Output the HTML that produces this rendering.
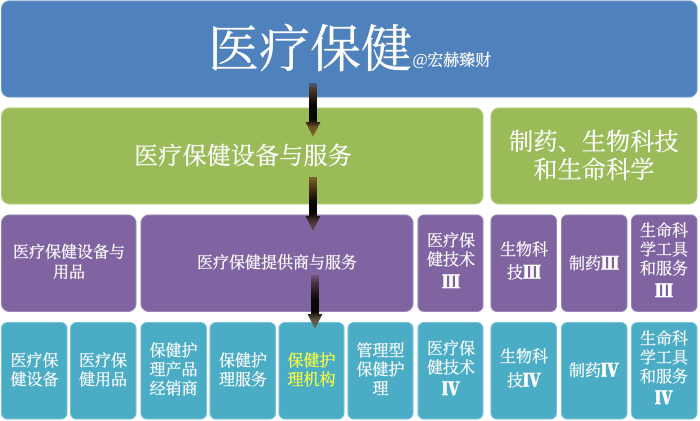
<!DOCTYPE html>
<html lang="zh">
<head>
<meta charset="utf-8">
<style>
html,body{margin:0;padding:0;background:#fff;width:700px;height:421px;overflow:hidden}
svg{display:block;filter:blur(.35px)}
text{font-family:"Noto Serif CJK SC","Liberation Serif",serif;fill:#fff;stroke:#fff;stroke-width:.25;text-anchor:middle;dominant-baseline:central}
.r{font-family:"Noto Serif CJK SC","Liberation Serif",serif;font-weight:900;stroke-width:.6}
</style>
</head>
<body>
<svg width="700" height="421" viewBox="0 0 700 421" xmlns="http://www.w3.org/2000/svg">
<defs>
<linearGradient id="a1" x1="0" y1="0" x2="0" y2="1">
<stop offset="0" stop-color="#4a5f80"/><stop offset=".12" stop-color="#4a3a28"/><stop offset=".4" stop-color="#0a0805"/><stop offset=".68" stop-color="#0a0805"/><stop offset=".82" stop-color="#6b5222"/><stop offset="1" stop-color="#8a6e2c"/>
</linearGradient>
<linearGradient id="a2" x1="0" y1="0" x2="0" y2="1">
<stop offset="0" stop-color="#7a6a2c"/><stop offset=".15" stop-color="#5a4218"/><stop offset=".45" stop-color="#0a0805"/><stop offset=".68" stop-color="#0a0805"/><stop offset=".82" stop-color="#4a3038"/><stop offset="1" stop-color="#6d4a58"/>
</linearGradient>
<linearGradient id="a3" x1="0" y1="0" x2="0" y2="1">
<stop offset="0" stop-color="#76557c"/><stop offset=".15" stop-color="#4a3040"/><stop offset=".45" stop-color="#0a0805"/><stop offset=".68" stop-color="#0a0805"/><stop offset=".82" stop-color="#5a5040"/><stop offset="1" stop-color="#6c6a58"/>
</linearGradient>
</defs>

<rect x="1.5" y="1" width="695.5" height="96" rx="8" fill="#4f81bd" stroke="#6c96c9"/>

<g fill="#9bbb59" stroke="#b4cd7e">
<rect x="1.5" y="108" width="481.5" height="96" rx="8"/>
<rect x="491" y="108" width="206" height="96" rx="8"/>
</g>

<g fill="#8064a2" stroke="#9a84b6">
<rect x="1.5" y="215" width="134.5" height="96.5" rx="8"/>
<rect x="141" y="215" width="272" height="96.5" rx="8"/>
<rect x="418" y="215" width="65" height="96.5" rx="6"/>
<rect x="491" y="215" width="65.5" height="96.5" rx="6"/>
<rect x="561.5" y="215" width="65.5" height="96.5" rx="6"/>
<rect x="631.5" y="215" width="65.5" height="96.5" rx="6"/>
</g>

<g fill="#4bacc6" stroke="#74c1d5">
<rect x="1.5" y="322.5" width="65.5" height="96.5" rx="6"/>
<rect x="70.5" y="322.5" width="65.5" height="96.5" rx="6"/>
<rect x="141" y="322.5" width="65.5" height="96.5" rx="6"/>
<rect x="210" y="322.5" width="65.5" height="96.5" rx="6"/>
<rect x="279" y="322.5" width="65" height="96.5" rx="6"/>
<rect x="348" y="322.5" width="65" height="96.5" rx="6"/>
<rect x="418" y="322.5" width="65" height="96.5" rx="6"/>
<rect x="491" y="322.5" width="65.5" height="96.5" rx="6"/>
<rect x="561.5" y="322.5" width="65.5" height="96.5" rx="6"/>
<rect x="631.5" y="322.5" width="65.5" height="96.5" rx="6"/>
</g>

<text x="310" y="45" font-size="51">医疗保健</text>
<text x="452" y="59" font-size="16">@宏赫臻财</text>

<g font-size="24" style="letter-spacing:.2px">
<text x="243" y="153.5">医疗保健设备与服务</text>
<text x="594" y="139.5">制药、生物科技</text>
<text x="594" y="167.5">和生命科学</text>
</g>

<g font-size="16" transform="translate(0,-2)">
<text x="69" y="253">医疗保健设备与</text>
<text x="69" y="273">用品</text>
<text x="277" y="263.5">医疗保健提供商与服务</text>
<text x="451" y="241.5">医疗保</text>
<text x="451" y="260.5">健技术</text>
<text x="451" y="283" font-size="18" class="r">Ⅲ</text>
<text x="524" y="250.5">生物科</text>
<text x="524" y="273.5">技<tspan class="r" font-size="18">Ⅲ</tspan></text>
<text x="594" y="264.5">制药<tspan class="r" font-size="18">Ⅲ</tspan></text>
<text x="664" y="231.5">生命科</text>
<text x="664" y="250.5">学工具</text>
<text x="664" y="269.5">和服务</text>
<text x="664" y="292" font-size="18" class="r">Ⅲ</text>

<text x="34.5" y="361.5">医疗保</text>
<text x="34.5" y="380.5">健设备</text>
<text x="103" y="361.5">医疗保</text>
<text x="103" y="380.5">健用品</text>
<text x="173.5" y="351.5">保健护</text>
<text x="173.5" y="370.5">理产品</text>
<text x="173.5" y="389.5">经销商</text>
<text x="243" y="361.5">保健护</text>
<text x="243" y="380.5">理服务</text>
<text x="311.5" y="361.5" style="fill:#ffff3c;stroke:#ffff3c">保健护</text>
<text x="311.5" y="380.5" style="fill:#ffff3c;stroke:#ffff3c">理机构</text>
<text x="380.5" y="351.5">管理型</text>
<text x="380.5" y="370.5">保健护</text>
<text x="380.5" y="389.5">理</text>
<text x="451" y="349.5">医疗保</text>
<text x="451" y="368.5">健技术</text>
<text x="451" y="390" font-size="18" class="r">Ⅳ</text>
<text x="524" y="357.5">生物科</text>
<text x="524" y="381.5">技<tspan class="r" font-size="18">Ⅳ</tspan></text>
<text x="594" y="371.5">制药<tspan class="r" font-size="18">Ⅳ</tspan></text>
<text x="664" y="339.5">生命科</text>
<text x="664" y="358.5">学工具</text>
<text x="664" y="377.5">和服务</text>
<text x="664" y="399" font-size="18" class="r">Ⅳ</text>
</g>

<polygon points="309,83 317,83 317,122 320.5,122 313,137 305.5,122 309,122" fill="url(#a1)"/>
<polygon points="309,177 317,177 317,216 320.5,216 313,231 305.5,216 309,216" fill="url(#a2)"/>
<polygon points="311,275 319,275 319,314 322.5,314 315,329 307.5,314 311,314" fill="url(#a3)"/>
</svg>
</body>
</html>
